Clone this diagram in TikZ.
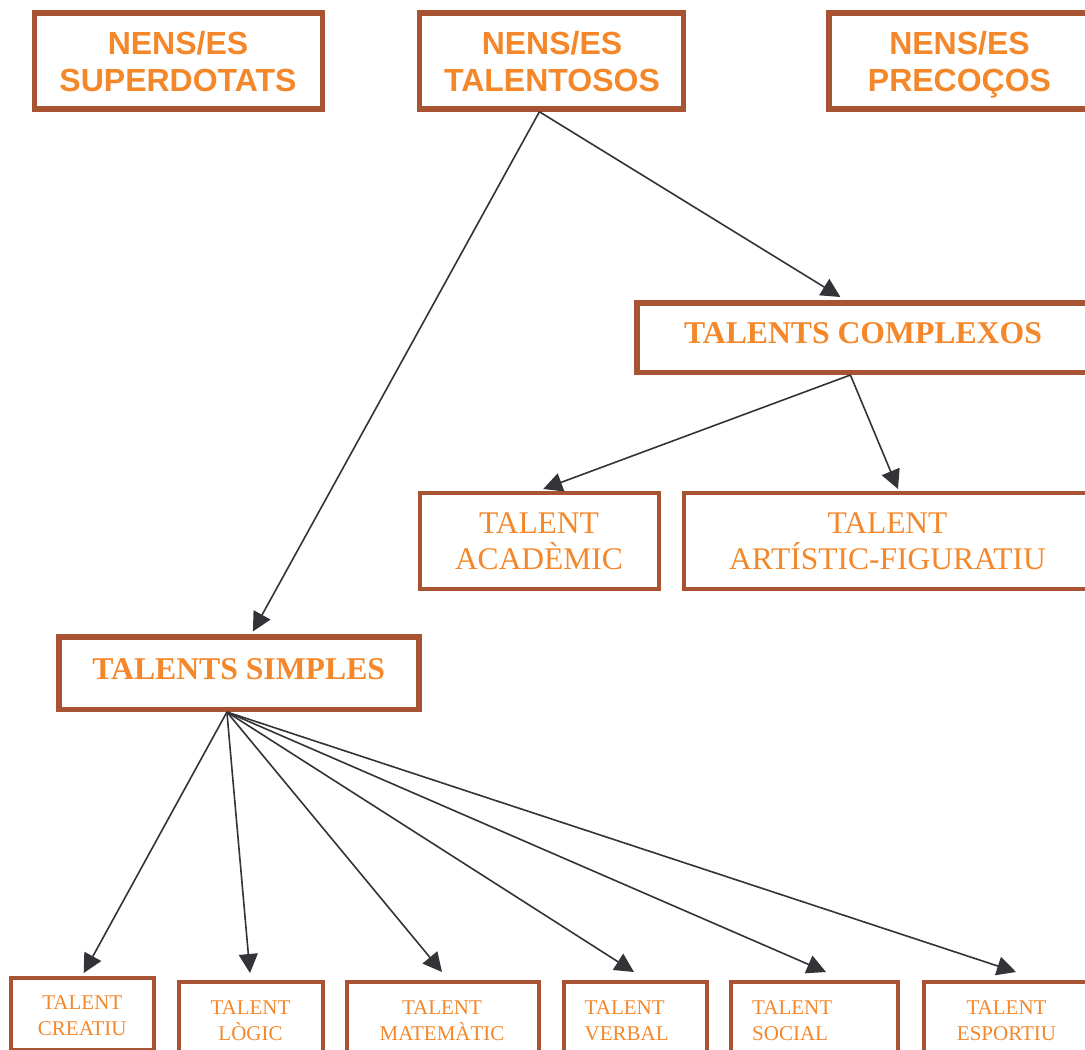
\documentclass[tikz,border=0pt]{standalone}
\usepackage{fontspec}
\setmainfont{Liberation Serif}
\setsansfont{Liberation Sans}
\usetikzlibrary{arrows.meta}
\definecolor{brd}{RGB}{168,84,52}
\definecolor{org}{RGB}{244,135,42}
\definecolor{arrc}{RGB}{51,51,56}
\tikzset{
  thickbox/.style={draw=brd, line width=5.5pt, inner sep=0pt, fill=white},
  thinbox/.style={draw=brd, line width=4pt, inner sep=0pt, fill=white},
  headtxt/.style={text=org, font=\sffamily\bfseries\fontsize{32}{37}\selectfont, align=center, inner sep=0pt},
  titletxt/.style={text=org, font=\bfseries\fontsize{31.7}{36}\selectfont, inner sep=0pt},
  midtxt/.style={text=org, font=\fontsize{31.5}{36.5}\selectfont, align=center, inner sep=0pt},
  smalltxt/.style={text=org, font=\fontsize{21}{26}\selectfont, align=center, inner sep=0pt},
  smallleft/.style={text=org, font=\fontsize{21}{26}\selectfont, align=left, inner sep=0pt, anchor=west},
  arr/.style={draw=arrc, line width=1.6pt, -{Triangle[length=19pt,width=19pt]}},
}
\begin{document}
\begin{tikzpicture}[x=1pt,y=-1pt]
\useasboundingbox (0,0) rectangle (1085,1050);
\fill[white] (0,0) rectangle (1085,1050);
\clip (0,0) rectangle (1085,1050);

% top boxes
\node[thickbox, minimum width=287.8pt, minimum height=96.2pt] (sup) at (178.4,60.9) {};
\node[thickbox, minimum width=264pt, minimum height=96.2pt] (tal) at (551.4,60.9) {};
\node[thickbox, minimum width=263.2pt, minimum height=96.2pt] (pre) at (960.4,60.9) {};
\node[headtxt] (supt) at (178,62) {NENS/ES\\SUPERDOTATS};
\node[headtxt] (talt) at (552,62) {NENS/ES\\TALENTOSOS};
\node[headtxt] (pret) at (959.5,62) {NENS/ES\\PRECO\smash{Ç}OS};

% complex talents
\node[thickbox, minimum width=455.25pt, minimum height=69.5pt] (cx) at (864.4,337.5) {};
\node[titletxt] (cxt) at (863,333) {TALENTS COMPLEXOS};
\node[thinbox, minimum width=239.5pt, minimum height=95.7pt] (aca) at (539.25,540.85) {};
\node[thinbox, minimum width=408pt, minimum height=95.7pt] (art) at (888,540.85) {};
\node[midtxt] (acat) at (539,541.3) {TALENT\\ACADÈMIC};
\node[midtxt] (artt) at (887.5,541.3) {TALENT\\ARTÍSTIC-FIGURATIU};

% simple talents
\node[thickbox, minimum width=360.2pt, minimum height=72.5pt] (sim) at (238.9,673) {};
\node[titletxt] (simt) at (238.7,669) {TALENTS SIMPLES};

% bottom boxes
\node[thinbox, minimum width=142.6pt, minimum height=72pt] (cre) at (82.7,1014) {};
\node[thinbox, minimum width=144pt, minimum height=76pt] (log) at (251,1020) {};
\node[thinbox, minimum width=192pt, minimum height=76pt] (mat) at (443,1020) {};
\node[thinbox, minimum width=143pt, minimum height=76pt] (ver) at (635,1020) {};
\node[thinbox, minimum width=167pt, minimum height=76pt] (soc) at (814.5,1020) {};
\node[thinbox, minimum width=168pt, minimum height=76pt] (esp) at (1008,1020) {};
\node[smalltxt] (cret) at (82.3,1016) {TALENT\\CREATIU};
\node[smalltxt] (logt) at (250.5,1021) {TALENT\\LÒGIC};
\node[smalltxt] (matt) at (442,1021) {TALENT\\MATEMÀTIC};
\node[smallleft] (vert) at (584.5,1021) {TALENT\\VERBAL};
\node[smallleft] (soct) at (752,1021) {TALENT\\SOCIAL};
\node[smalltxt] (espt) at (1006.5,1021) {TALENT\\ESPORTIU};

% connectors
\draw[arr] ([xshift=-12pt]tal.south) -- ([xshift=-24pt,yshift=3pt]cx.north);
\draw[arr] ([xshift=-12pt]tal.south) -- ([xshift=14pt,yshift=2.5pt]sim.north);
\draw[arr] ([xshift=-14pt]cx.south) -- ([xshift=4pt,yshift=2pt]aca.north);
\draw[arr] ([xshift=-14pt]cx.south) -- ([xshift=10pt,yshift=2pt]art.north);
\draw[arr] ([xshift=-12pt]sim.south) -- ([xshift=1pt,yshift=3pt]cre.north);
\draw[arr] ([xshift=-12pt]sim.south) -- ([xshift=-1pt,yshift=7pt]log.north);
\draw[arr] ([xshift=-12pt]sim.south) -- ([xshift=-1pt,yshift=8pt]mat.north);
\draw[arr] ([xshift=-12pt]sim.south) -- ([xshift=-1pt,yshift=8pt]ver.north);
\draw[arr] ([xshift=-12pt]sim.south) -- ([xshift=11.5pt,yshift=8pt]soc.north);
\draw[arr] ([xshift=-12pt]sim.south) -- ([xshift=8pt,yshift=8pt]esp.north);
\end{tikzpicture}
\end{document}
